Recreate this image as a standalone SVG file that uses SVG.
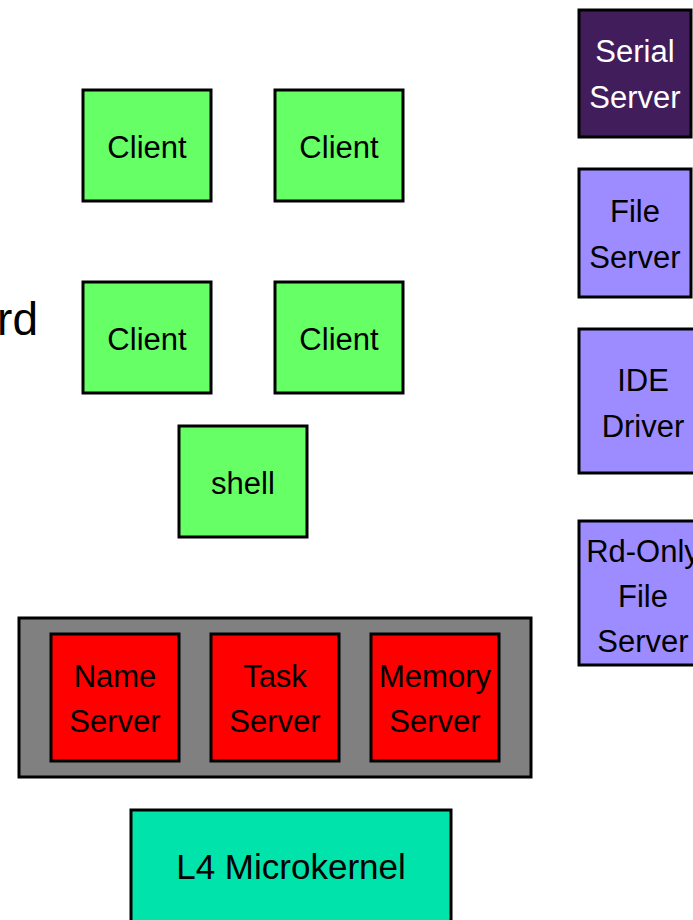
<svg xmlns="http://www.w3.org/2000/svg" width="693" height="920" viewBox="0 0 693 920">
<style>
rect{stroke:#000;stroke-width:3}
text{font-family:"Liberation Sans",Arial,sans-serif;font-size:31px;text-anchor:middle;fill:#000}
.client{fill:#66FF66}
.red{fill:#FF0000}
.lp{fill:#9D8CFF}
.w{fill:#fff}
</style>
<rect width="693" height="920" fill="#fff" style="stroke:none"/>
<g id="keyboard-label"><text x="38" y="335" style="font-size:46px;text-anchor:end">rd</text></g>
<g id="client1"><rect class="client" x="83" y="90" width="128" height="111"/><text x="147" y="158">Client</text></g>
<g id="client2"><rect class="client" x="275" y="90" width="128" height="111"/><text x="339" y="158">Client</text></g>
<g id="client3"><rect class="client" x="83" y="282" width="128" height="111"/><text x="147" y="350">Client</text></g>
<g id="client4"><rect class="client" x="275" y="282" width="128" height="111"/><text x="339" y="350">Client</text></g>
<g id="shell"><rect class="client" x="179" y="426" width="128" height="111"/><text x="243" y="494">shell</text></g>
<g id="serial-server"><rect x="579" y="10" width="112" height="127" fill="#421D5B"/><text class="w" x="635" y="62">Serial</text><text class="w" x="635" y="108">Server</text></g>
<g id="file-server"><rect class="lp" x="579" y="169" width="112" height="128"/><text x="635" y="222">File</text><text x="635" y="268">Server</text></g>
<g id="ide-driver"><rect class="lp" x="579" y="329" width="128" height="144"/><text x="643" y="391">IDE</text><text x="643" y="437">Driver</text></g>
<g id="rdonly-file-server"><rect class="lp" x="579" y="521" width="128" height="144"/><text x="643" y="562">Rd-Only</text><text x="643" y="607">File</text><text x="643" y="652">Server</text></g>
<g id="core-servers"><rect x="19" y="618" width="512" height="159" fill="#808080"/></g>
<g id="name-server"><rect class="red" x="51" y="634" width="128" height="127"/><text x="115" y="687">Name</text><text x="115" y="732">Server</text></g>
<g id="task-server"><rect class="red" x="211" y="634" width="128" height="127"/><text x="275" y="687">Task</text><text x="275" y="732">Server</text></g>
<g id="memory-server"><rect class="red" x="371" y="634" width="128" height="127"/><text x="435" y="687">Memory</text><text x="435" y="732">Server</text></g>
<g id="l4-microkernel"><rect x="131" y="810" width="320" height="120" fill="#00E3AA"/><text x="291" y="879" style="font-size:35px">L4 Microkernel</text></g>
<g id="connectors"></g>
</svg>
